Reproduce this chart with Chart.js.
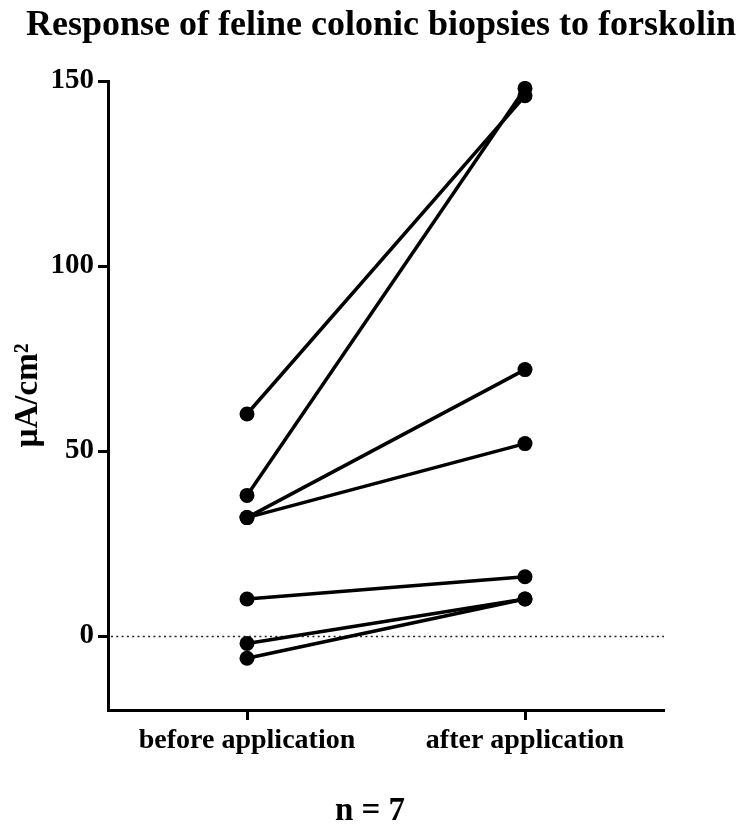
<!DOCTYPE html>
<html>
<head>
<meta charset="utf-8">
<script src="https://cdn.jsdelivr.net/npm/chart.js@4.4.1/dist/chart.umd.min.js"></script>
<style>
  html, body { margin: 0; padding: 0; background: #fff; }
  #wrap { width: 739px; height: 825px; }
</style>
</head>
<body>
<div id="wrap"><canvas id="c" width="739" height="825"></canvas></div>
<script>
// Paired short-circuit current readings (µA/cm²), one entry per biopsy
const conditions = ['before application', 'after application'];
const beforeValues = [60, 38, 32, 32, 10, -2, -6];
const afterValues = [146, 148, 72, 52, 16, 10, 10];
const yTickValues = [0, 50, 100, 150];
const chartTitle = 'Response of feline colonic biopsies to forskolin';
const yTitle = 'µA/cm²';
const footnote = 'n = 7';

const SERIF = '"Liberation Serif", "Times New Roman", serif';

const datasets = beforeValues.map((b, i) => ({
  label: 'Biopsy ' + (i + 1),
  data: [b, afterValues[i]],
  borderColor: '#000',
  backgroundColor: '#000',
  borderWidth: 3.5,
  pointRadius: 7.5,
  pointHoverRadius: 7.5,
  pointBackgroundColor: '#000',
  pointBorderColor: '#000',
  pointBorderWidth: 0,
  tension: 0
}));

// Dotted reference line at zero plus the free-standing texts
const decorations = {
  id: 'decorations',
  beforeDatasetsDraw(chart) {
    const { ctx, chartArea, scales } = chart;
    const y0 = Math.round(scales.y.getPixelForValue(0)) + 0.5;
    ctx.save();
    ctx.strokeStyle = '#222';
    ctx.lineWidth = 1.5;
    ctx.setLineDash([2, 3.3]);
    ctx.beginPath();
    ctx.moveTo(chartArea.left + 3, y0);
    ctx.lineTo(chartArea.right, y0);
    ctx.stroke();
    ctx.restore();
  },
  afterDraw(chart) {
    const { ctx, chartArea } = chart;
    ctx.save();
    ctx.fillStyle = '#000';
    ctx.textAlign = 'center';
    ctx.textBaseline = 'alphabetic';
    ctx.font = 'bold 36px ' + SERIF;
    ctx.fillText(chartTitle, 381, 35);
    ctx.font = 'bold 33px ' + SERIF;
    ctx.fillText(footnote, 370, 820);
    ctx.translate(28, (chartArea.top + chartArea.bottom) / 2);
    ctx.rotate(-Math.PI / 2);
    ctx.textBaseline = 'middle';
    ctx.font = 'bold 33px ' + SERIF;
    ctx.fillText(yTitle, 0, 0);
    ctx.restore();
  }
};

new Chart(document.getElementById('c'), {
  type: 'line',
  data: { labels: conditions, datasets },
  options: {
    responsive: false,
    animation: false,
    layout: { padding: { top: 81, right: 75, bottom: 0, left: 0 } },
    plugins: {
      legend: { display: false },
      tooltip: { enabled: false },
      title: { display: false }
    },
    scales: {
      x: {
        type: 'category',
        offset: true,
        afterFit(scale) { scale.height = 115; },
        border: { display: true, color: '#000', width: 3 },
        grid: {
          display: true,
          offset: false,
          drawOnChartArea: false,
          drawTicks: true,
          tickLength: 10,
          tickWidth: 3,
          tickColor: '#000'
        },
        ticks: {
          color: '#000',
          padding: 4,
          maxRotation: 0,
          font: { family: SERIF, size: 28, weight: 'bold' }
        }
      },
      y: {
        type: 'linear',
        min: -20,
        max: 150,
        afterFit(scale) { scale.width = 108; },
        afterBuildTicks(scale) {
          scale.ticks = yTickValues.map(v => ({ value: v }));
        },
        border: { display: true, color: '#000', width: 3 },
        grid: {
          display: true,
          drawOnChartArea: false,
          drawTicks: true,
          tickLength: 10,
          tickWidth: 3,
          tickColor: '#000'
        },
        ticks: {
          color: '#000',
          padding: 4,
          font: { family: SERIF, size: 29, weight: 'bold' }
        }
      }
    }
  },
  plugins: [decorations]
});
</script>
</body>
</html>
